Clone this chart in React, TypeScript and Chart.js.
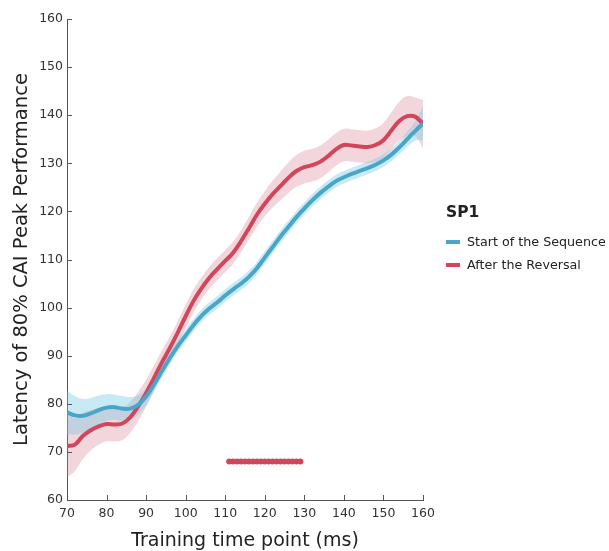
import React, { useEffect, useRef } from "react";
import { Chart, registerables } from "chart.js";

Chart.register(...registerables);

const timePoints = [70, 72, 74, 76, 78, 80, 82, 84, 86, 88, 90, 92, 94, 96, 98, 100, 102, 104, 106, 108, 110, 112, 114, 116, 118, 120, 122, 124, 126, 128, 130, 132, 134, 136, 138, 140, 142, 144, 146, 148, 150, 152, 154, 156, 158, 160];

const startMean = [78.2, 77.6, 77.5, 78.0, 78.7, 79.2, 79.3, 79.0, 79.0, 79.8, 81.5, 84.0, 86.8, 89.5, 92.0, 94.2, 96.4, 98.3, 99.8, 101.1, 102.5, 103.8, 105.0, 106.4, 108.2, 110.4, 112.6, 114.8, 116.8, 118.8, 120.6, 122.3, 123.8, 125.1, 126.3, 127.1, 127.8, 128.4, 129.0, 129.7, 130.6, 131.8, 133.3, 135.0, 136.7, 138.3];
const startErr = [4.5, 4.0, 3.5, 3.2, 3.0, 2.8, 2.6, 2.6, 2.4, 2.0, 1.8, 1.6, 1.4, 1.3, 1.3, 1.3, 1.3, 1.3, 1.3, 1.3, 1.3, 1.3, 1.3, 1.3, 1.3, 1.3, 1.3, 1.3, 1.3, 1.3, 1.3, 1.3, 1.3, 1.3, 1.3, 1.3, 1.3, 1.3, 1.3, 1.3, 1.3, 1.3, 1.4, 1.6, 2.0, 3.5];

const reversalMean = [71.2, 71.5, 73.3, 74.5, 75.3, 75.8, 75.7, 75.9, 77.2, 79.5, 82.2, 85.4, 88.6, 91.6, 94.8, 98.2, 101.4, 104.0, 106.2, 108.0, 109.7, 111.4, 113.8, 116.5, 119.3, 121.6, 123.6, 125.3, 127.0, 128.4, 129.2, 129.6, 130.3, 131.5, 132.9, 133.8, 133.7, 133.5, 133.4, 133.8, 134.8, 136.8, 138.8, 139.8, 139.7, 138.2];
const reversalErr = [6.5, 5.5, 4.8, 4.2, 3.8, 3.6, 3.5, 3.4, 3.2, 3.0, 2.8, 2.6, 2.5, 2.4, 2.4, 2.4, 2.4, 2.3, 2.3, 2.3, 2.3, 2.3, 2.3, 2.4, 2.5, 2.6, 2.8, 3.0, 3.2, 3.3, 3.4, 3.4, 3.4, 3.4, 3.4, 3.4, 3.4, 3.4, 3.4, 3.5, 3.6, 3.8, 4.0, 4.2, 4.0, 5.0];

const sigTimes = [111, 112, 113, 114, 115, 116, 117, 118, 119, 120, 121, 122, 123, 124, 125, 126, 127, 128, 129];
const sigLevel = 68;

const xTicks = [70, 80, 90, 100, 110, 120, 130, 140, 150, 160];
const yTicks = [60, 70, 80, 90, 100, 110, 120, 130, 140, 150, 160];

const seriesNames = ["Start of the Sequence", "After the Reversal"];
const legendTitle = "SP1";

const BLUE = "#4aa6c8";
const RED = "#d1465b";
const FONT = "'DejaVu Sans', Verdana, sans-serif";

const pts = (vals: number[]) => timePoints.map((x, i) => ({ x, y: vals[i] }));
const ptsOff = (vals: number[], err: number[], s: number) =>
  timePoints.map((x, i) => ({ x, y: vals[i] + s * err[i] }));

const inwardTicks = {
  id: "inwardTicks",
  afterDatasetsDraw(chart: any) {
    const { ctx, chartArea, scales } = chart;
    ctx.save();
    ctx.strokeStyle = "#555";
    ctx.lineWidth = 1;
    xTicks.forEach((v) => {
      const px = Math.round(scales.x.getPixelForValue(v)) + 0.5;
      ctx.beginPath();
      ctx.moveTo(px, chartArea.bottom);
      ctx.lineTo(px, chartArea.bottom - 5);
      ctx.stroke();
    });
    yTicks.forEach((v) => {
      const py = Math.round(scales.y.getPixelForValue(v)) + 0.5;
      ctx.beginPath();
      ctx.moveTo(chartArea.left, py);
      ctx.lineTo(chartArea.left + 5, py);
      ctx.stroke();
    });
    ctx.restore();
  },
};

export default function App() {
  const ref = useRef<HTMLCanvasElement | null>(null);

  useEffect(() => {
    if (!ref.current) return;
    const chart = new Chart(ref.current, {
      type: "line",
      data: {
        datasets: [
          {
            label: "sig",
            data: sigTimes.map((x) => ({ x, y: sigLevel })),
            showLine: false,
            pointRadius: 3,
            pointBackgroundColor: RED,
            pointBorderWidth: 0,
            order: 0,
          },
          {
            label: seriesNames[0],
            data: pts(startMean),
            borderColor: BLUE,
            borderWidth: 4,
            pointRadius: 0,
            tension: 0.4,
            fill: false,
            order: 1,
          },
          {
            label: seriesNames[1],
            data: pts(reversalMean),
            borderColor: RED,
            borderWidth: 4,
            pointRadius: 0,
            tension: 0.4,
            fill: false,
            order: 2,
          },
          {
            label: "startUpper",
            data: ptsOff(startMean, startErr, 1),
            borderWidth: 0,
            borderColor: "rgba(0,0,0,0)",
            pointRadius: 0,
            tension: 0.4,
            fill: "+1",
            backgroundColor: "rgba(110, 200, 225, 0.38)",
            order: 3,
          },
          {
            label: "startLower",
            data: ptsOff(startMean, startErr, -1),
            borderWidth: 0,
            borderColor: "rgba(0,0,0,0)",
            pointRadius: 0,
            tension: 0.4,
            fill: false,
            order: 4,
          },
          {
            label: "revUpper",
            data: ptsOff(reversalMean, reversalErr, 1),
            borderWidth: 0,
            borderColor: "rgba(0,0,0,0)",
            pointRadius: 0,
            tension: 0.4,
            fill: "+1",
            backgroundColor: "rgba(215, 120, 140, 0.3)",
            order: 5,
          },
          {
            label: "revLower",
            data: ptsOff(reversalMean, reversalErr, -1),
            borderWidth: 0,
            borderColor: "rgba(0,0,0,0)",
            pointRadius: 0,
            tension: 0.4,
            fill: false,
            order: 6,
          },
        ],
      },
      options: {
        animation: false,
        responsive: false,
        maintainAspectRatio: false,
        layout: { padding: { top: 19, right: 186, left: 0, bottom: 0 } },
        plugins: {
          legend: { display: false },
          tooltip: { enabled: false },
        },
        scales: {
          x: {
            type: "linear",
            min: 70,
            max: 160,
            afterFit: (s: any) => {
              s.height = 51;
            },
            afterBuildTicks: (s: any) => {
              s.ticks = xTicks.map((v) => ({ value: v }));
            },
            ticks: {
              color: "#333",
              font: { family: FONT, size: 12.5 },
              padding: 6,
              maxRotation: 0,
            },
            grid: { drawOnChartArea: false, drawTicks: false },
            border: { display: true, color: "#555", width: 1 },
            title: {
              display: true,
              text: "Training time point (ms)",
              color: "#222",
              font: { family: FONT, size: 19, lineHeight: 1 },
              padding: { top: 0, bottom: 0 },
            },
          },
          y: {
            type: "linear",
            min: 60,
            max: 160,
            afterFit: (s: any) => {
              s.width = 67;
            },
            afterBuildTicks: (s: any) => {
              s.ticks = yTicks.map((v) => ({ value: v }));
            },
            ticks: {
              color: "#333",
              font: { family: FONT, size: 12.5 },
              padding: 4,
            },
            grid: { drawOnChartArea: false, drawTicks: false },
            border: { display: true, color: "#555", width: 1 },
            title: {
              display: true,
              text: "Latency of 80% CAI Peak Performance",
              color: "#222",
              font: { family: FONT, size: 19.5, lineHeight: 1.2 },
              padding: { top: 10, bottom: 0 },
            },
          },
        },
      },
      plugins: [inwardTicks],
    } as any);
    return () => chart.destroy();
  }, []);

  const swatch = (c: string) => (
    <span
      style={{
        display: "inline-block",
        width: 14,
        height: 4,
        background: c,
        marginRight: 7,
        verticalAlign: "middle",
        position: "relative",
        top: -1,
      }}
    />
  );

  return (
    <div style={{ position: "fixed", left: 0, top: 0, width: 609, height: 551, background: "#fff" }}>
      <canvas ref={ref} width={609} height={551} style={{ display: "block" }} />
      <div style={{ position: "absolute", left: 446, top: 201, fontFamily: FONT, color: "#222" }}>
        <div style={{ fontWeight: "bold", fontSize: 15.5, lineHeight: "22px" }}>{legendTitle}</div>
        <div style={{ fontSize: 12.7, lineHeight: "23px", marginTop: 7, whiteSpace: "nowrap" }}>
          {swatch(BLUE)}
          {seriesNames[0]}
        </div>
        <div style={{ fontSize: 12.7, lineHeight: "23px", whiteSpace: "nowrap" }}>
          {swatch(RED)}
          {seriesNames[1]}
        </div>
      </div>
    </div>
  );
}
